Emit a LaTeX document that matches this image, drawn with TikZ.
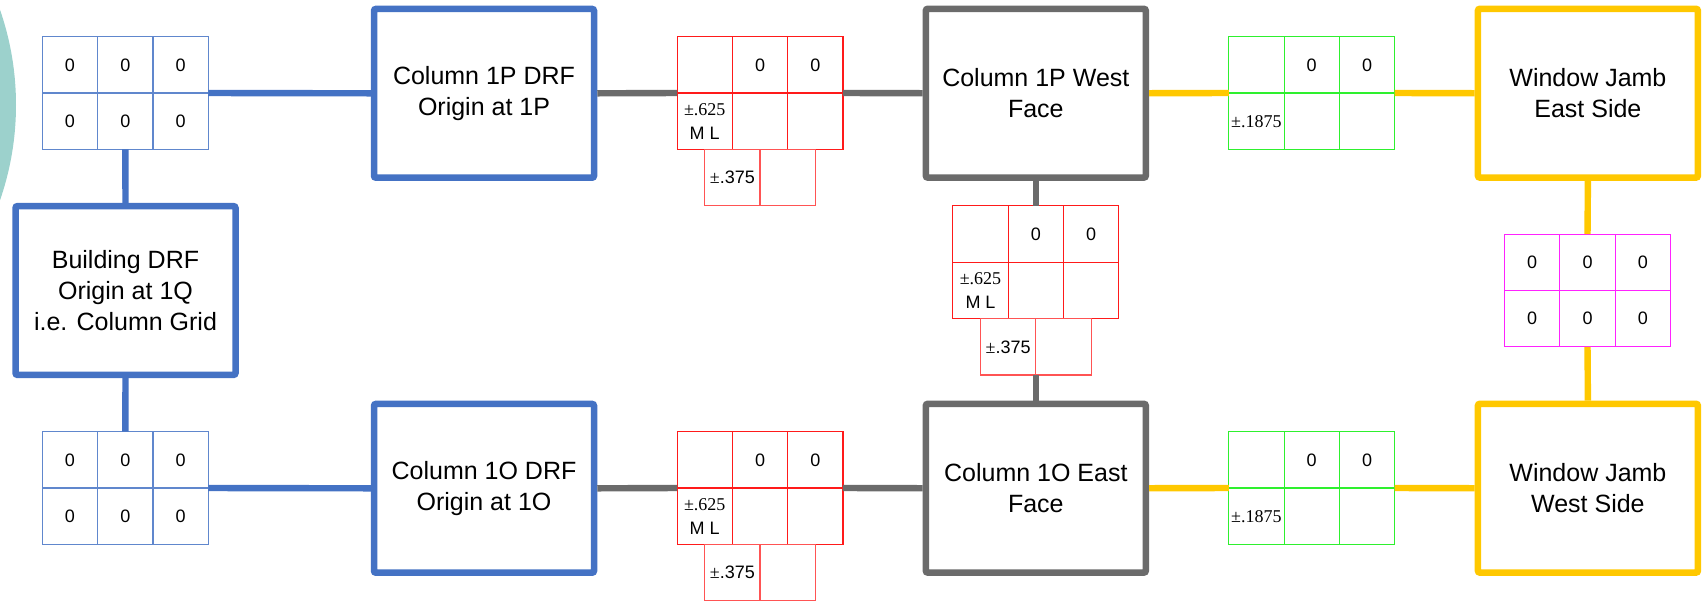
\documentclass[tikz,border=0pt]{standalone}
\usepackage{fontspec}
\setmainfont{Liberation Sans}
\newfontfamily\serifnum{Liberation Serif}
\usetikzlibrary{calc}

\definecolor{cblue}{HTML}{4472C4}
\definecolor{cgray}{HTML}{6B6B6B}
\definecolor{cgold}{HTML}{FFC800}
\definecolor{cgreen}{HTML}{2EF02E}
\definecolor{cred}{HTML}{FF1A1A}
\definecolor{cmag}{HTML}{FF22FF}
\definecolor{cteal}{HTML}{9CD1CC}

\tikzset{
  bigbox/.style={draw, line width=3.25pt, rounded corners=1pt, fill=white,
    minimum width=110pt, minimum height=84.4pt, inner sep=0pt, align=center,
    font=\fontsize{12.5}{15.5}\selectfont},
  cell/.style={draw, line width=0.55pt, fill=white, minimum width=27.65pt,
    minimum height=28.2pt, inner sep=0pt, outer sep=0pt,
    font=\fontsize{9}{12}\selectfont, align=center},
  gridframe/.style={minimum width=82.95pt, minimum height=56.4pt, inner sep=0pt, outer sep=0pt},
  conn/.style={line width=3.2pt},
}

\newcommand\gridsix[9]{%
  \node[gridframe] (#1) at (#2) {};
  \node[cell, draw=#3] (#1-11) at ($(#1)+(-55.3,-28.2)$) {#4};
  \node[cell, draw=#3] (#1-12) at ($(#1)+(0,-28.2)$) {#5};
  \node[cell, draw=#3] (#1-13) at ($(#1)+(55.3,-28.2)$) {#6};
  \node[cell, draw=#3] (#1-21) at ($(#1)+(-55.3,28.2)$) {#7};
  \node[cell, draw=#3] (#1-22) at ($(#1)+(0,28.2)$) {#8};
  \node[cell, draw=#3] (#1-23) at ($(#1)+(55.3,28.2)$) {#9};
}
\newcommand\subrow[1]{%
  \node[cell, draw=cred!75] (#1-31) at ($(#1)+(-27.65,84.6)$) {{\serifnum ±}.375};
  \node[cell, draw=cred!75] (#1-32) at ($(#1)+(27.65,84.6)$) {};
}

\begin{document}
\begin{tikzpicture}[x=0.5pt, y=-0.5pt]
\useasboundingbox (0,0) rectangle (1706,601);
\begin{scope}
  \clip (0,0) rectangle (1706,601);
  \fill[cteal] (-274,105) circle[radius=290];
\end{scope}

% big boxes
\node[bigbox, draw=cblue] (bldg) at (125.5,290.5) {Building DRF\\Origin at 1Q\\i.e. Column Grid};
\node[bigbox, draw=cblue] (p1drf) at (484,93.3) {Column 1P DRF\\Origin at 1P};
\node[bigbox, draw=cblue] (o1drf) at (484,488.3) {Column 1O DRF\\Origin at 1O};
\node[bigbox, draw=cgray] (p1w) at (1035.8,93.2) {Column 1P West\\Face};
\node[bigbox, draw=cgray] (o1e) at (1035.8,488.2) {Column 1O East\\Face};
\node[bigbox, draw=cgold] (wje) at (1587.9,93.2) {Window Jamb\\East Side};
\node[bigbox, draw=cgold] (wjw) at (1587.9,488.2) {Window Jamb\\West Side};

% grids
\gridsix{bt}{125.3,93}{cblue!85}{0}{0}{0}{0}{0}{0}
\gridsix{bb}{125.3,488}{cblue!85}{0}{0}{0}{0}{0}{0}
\gridsix{rt}{760,93}{cred}{}{0}{0}{{\serifnum ±.625}\\M L}{}{}
\subrow{rt}
\gridsix{rb}{760,488}{cred}{}{0}{0}{{\serifnum ±.625}\\M L}{}{}
\subrow{rb}
\gridsix{rm}{1035.8,262.2}{cred}{}{0}{0}{{\serifnum ±.625}\\M L}{}{}
\subrow{rm}
\gridsix{gt}{1311.7,93}{cgreen}{}{0}{0}{\serifnum ±.1875}{}{}
\gridsix{gb}{1311.7,488}{cgreen}{}{0}{0}{\serifnum ±.1875}{}{}
\gridsix{mg}{1587.5,290.5}{cmag}{0}{0}{0}{0}{0}{0}

% connectors
\draw[conn, cblue] (bt.east) -- (p1drf.west);
\draw[conn, cblue] (bt.south) -- (bldg.north);
\draw[conn, cblue] (bldg.south) -- (bb.north);
\draw[conn, cblue] (bb.east) -- (o1drf.west);
\draw[conn, cgray] (p1drf.east) -- (rt.west);
\draw[conn, cgray] (rt.east) -- (p1w.west);
\draw[conn, cgray] (o1drf.east) -- (rb.west);
\draw[conn, cgray] (rb.east) -- (o1e.west);
\draw[conn, cgray] (p1w.south) -- (rm.north);
\draw[conn, cgray] (rm-31.south east) -- (rm-31.south east |- o1e.north);
\draw[conn, cgold] (p1w.east) -- (gt.west);
\draw[conn, cgold] (gt.east) -- (wje.west);
\draw[conn, cgold] (o1e.east) -- (gb.west);
\draw[conn, cgold] (gb.east) -- (wjw.west);
\draw[conn, cgold] (wje.south) -- (mg.north);
\draw[conn, cgold] (mg.south) -- (wjw.north);
\end{tikzpicture}
\end{document}
